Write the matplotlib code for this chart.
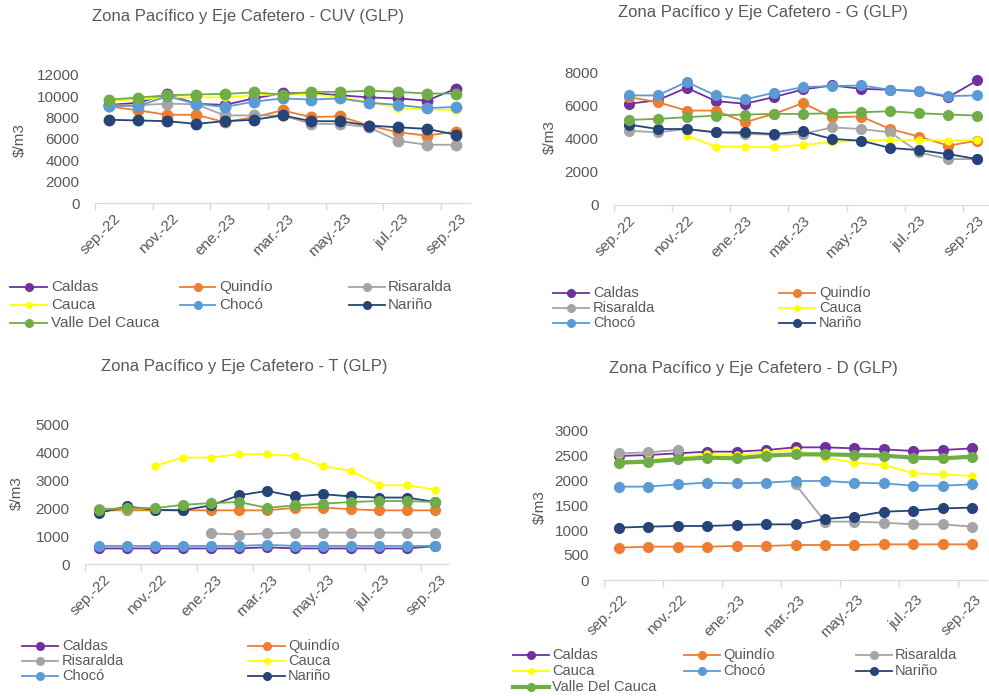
import numpy as np
import matplotlib.pyplot as plt
import matplotlib.transforms as mtransforms
from matplotlib.lines import Line2D

plt.rcParams["font.family"] = ["Liberation Sans", "DejaVu Sans"]

W, H = 989, 696
nan = np.nan

meses = np.arange(13)
etiquetas = ["sep.-22", "nov.-22", "ene.-23", "mar.-23", "may.-23", "jul.-23", "sep.-23"]
departamentos = ["Caldas", "Quindío", "Risaralda", "Cauca", "Chocó", "Nariño", "Valle Del Cauca"]
colores = {
    "Caldas": "#7030A0",
    "Quindío": "#ED7D31",
    "Risaralda": "#A5A5A5",
    "Cauca": "#FFFF00",
    "Chocó": "#5B9BD5",
    "Nariño": "#264478",
    "Valle Del Cauca": "#70AD47",
}

# CUV
cuv_caldas = [9200, 9400, 10200, 9300, 9200, 9800, 10300, 10300, 10100, 9900, 9800, 9600, 10700]
cuv_quindio = [9060, 8680, 8270, 8270, 7580, 8050, 8680, 8050, 8120, 7260, 6630, 6320, 6700]
cuv_risaralda = [9160, 9160, 9320, 9250, 8210, 8210, 8210, 7420, 7420, 7100, 5840, 5460, 5460]
cuv_cauca = [9600, 9700, 9900, 9900, 9900, 10100, 10200, 10200, 9900, 9500, 8900, 8800, 8700]
cuv_choco = [9100, 9100, 10000, 9300, 9000, 9500, 9800, 9700, 9800, 9400, 9200, 8900, 9000]
cuv_narino = [7800, 7740, 7670, 7420, 7670, 7800, 8210, 7670, 7670, 7260, 7100, 6950, 6410]
cuv_valle = [9700, 9880, 10100, 10170, 10230, 10360, 10170, 10420, 10420, 10520, 10420, 10260, 10260]

# G
g_caldas = [6090, 6300, 7050, 6250, 6090, 6490, 6950, 7190, 6990, 6930, 6850, 6490, 7500]
g_quindio = [6490, 6190, 5680, 5680, 4980, 5480, 6130, 5280, 5320, 4570, 4110, 3570, 3870]
g_risaralda = [4470, 4370, 4570, 4370, 4270, 4230, 4270, 4670, 4570, 4370, 3160, 2760, 2760]
g_cauca = [nan, nan, 4170, 3510, 3510, 3470, 3630, 3770, 3870, 3910, 3910, 3870, 3910]
g_choco = [6590, 6590, 7400, 6590, 6350, 6750, 7090, 7150, 7190, 6930, 6850, 6550, 6590]
g_narino = [4840, 4570, 4570, 4370, 4370, 4270, 4430, 3970, 3870, 3430, 3300, 3060, 2760]
g_valle = [5120, 5180, 5280, 5380, 5440, 5480, 5480, 5520, 5580, 5640, 5520, 5440, 5380]

# T
t_caldas = [560, 560, 560, 560, 560, 560, 600, 560, 560, 560, 560, 560, 640]
t_quindio = [1930, 1930, 1930, 1930, 1930, 1930, 1930, 2020, 2030, 1970, 1930, 1930, 1930]
t_risaralda = [1990, 1990, 1990, nan, 1100, 1060, 1100, 1130, 1130, 1130, 1130, 1130, 1130]
t_cauca = [nan, nan, 3530, 3830, 3830, 3950, 3950, 3880, 3520, 3350, 2830, 2830, 2675]
t_choco = [650, 650, 650, 650, 650, 650, 690, 650, 650, 650, 650, 650, 650]
t_narino = [1840, 2070, 1950, 1930, 2110, 2470, 2630, 2430, 2510, 2430, 2390, 2390, 2230]
t_valle = [1950, 2010, 2010, 2130, 2190, 2230, 2020, 2110, 2170, 2230, 2265, 2265, 2230]

# D
d_caldas = [2480, 2500, 2533, 2567, 2567, 2600, 2653, 2653, 2633, 2613, 2580, 2600, 2633]
d_quindio = [647, 667, 667, 667, 680, 680, 700, 700, 700, 713, 713, 713, 713]
d_risaralda = [2533, 2553, 2600, nan, nan, nan, 1913, 1167, 1167, 1147, 1113, 1113, 1067]
d_cauca = [2380, 2400, 2440, 2513, 2500, 2553, 2600, 2447, 2347, 2300, 2133, 2113, 2080]
d_choco = [1867, 1867, 1913, 1947, 1933, 1947, 1980, 1980, 1947, 1933, 1887, 1887, 1913]
d_narino = [1047, 1067, 1080, 1080, 1100, 1113, 1113, 1220, 1267, 1367, 1387, 1433, 1447]
d_valle = [2347, 2367, 2413, 2447, 2433, 2487, 2513, 2513, 2500, 2487, 2447, 2433, 2467]

gris = "#595959"


def rect(x0, x1, ytop, ybot):
    return [x0 / W, 1 - ybot / H, (x1 - x0) / W, (ybot - ytop) / H]


def panel(fig, r, series, ymax, ystep, title, tpos, ylab_pos, ms=7, valle_lw=1.3,
          xpad=6, dx=0.04):
    ax = fig.add_axes(r)
    for name, vals in zip(departamentos, series):
        lw = valle_lw if name == "Valle Del Cauca" else 1.3
        m = ms - 2 if name == "Cauca" else ms
        ax.plot(meses, vals, color=colores[name], lw=lw, marker="o", ms=m, zorder=3)
    ax.set_xlim(-0.5, 12.5)
    ax.set_ylim(0, ymax)
    ax.set_yticks(np.arange(0, ymax + 1, ystep))
    ax.tick_params(axis="y", length=0, pad=11, labelsize=11, labelcolor=gris)
    ax.set_xticks(np.arange(-0.5, 12, 2))
    ax.set_xticklabels([])
    ax.tick_params(axis="x", which="major", length=5, color="#D9D9D9", width=1)
    ax.set_xticks(np.arange(0, 13, 2), minor=True)
    ax.set_xticklabels(etiquetas, minor=True, rotation=45, ha="right",
                       va="top", rotation_mode="anchor")
    ax.tick_params(axis="x", which="minor", length=0, pad=xpad, labelsize=11, labelcolor=gris)
    shift = mtransforms.ScaledTranslation(dx, 0, fig.dpi_scale_trans)
    for lab in ax.get_xticklabels(minor=True):
        lab.set_transform(lab.get_transform() + shift)
    for s in ["top", "right", "left"]:
        ax.spines[s].set_visible(False)
    ax.spines["bottom"].set_color("#D9D9D9")
    ax.patch.set_alpha(0)
    fig.text(tpos[0] / W, 1 - tpos[1] / H, title, ha="center", va="center",
             fontsize=12, color=gris)
    fig.text(ylab_pos[0] / W, 1 - ylab_pos[1] / H, "$/m3", rotation=90,
             ha="center", va="center", fontsize=11, color=gris)
    return ax


def leyenda(fig, nombres, cols, rows, fs=10.5, valle_lw=1.3):
    # cols: (line start, line end, text x); rows: y; row-major order
    ncol = len(cols)
    for i, name in enumerate(nombres):
        xa, xb, xt = cols[i % ncol]
        y = 1 - rows[i // ncol] / H
        lw = valle_lw if name == "Valle Del Cauca" else 1.3
        m = 4 if name == "Cauca" else 5.5
        fig.add_artist(Line2D([xa / W, xb / W], [y, y], color=colores[name], lw=lw))
        fig.add_artist(Line2D([(xa + xb) / 2 / W], [y], color=colores[name],
                              marker="o", ms=m, lw=0))
        fig.text(xt / W, y, name, ha="left", va="center", fontsize=fs, color=gris)


fig = plt.figure(figsize=(W / 100, H / 100), dpi=100)

panel(fig, rect(95, 470, 75, 203),
      [cuv_caldas, cuv_quindio, cuv_risaralda, cuv_cauca, cuv_choco, cuv_narino, cuv_valle],
      12000, 2000, "Zona Pacífico y Eje Cafetero - CUV (GLP)", (248, 16), (20, 140), ms=7.5)
panel(fig, rect(614, 992, 72, 205),
      [g_caldas, g_quindio, g_risaralda, g_cauca, g_choco, g_narino, g_valle],
      8000, 2000, "Zona Pacífico y Eje Cafetero - G (GLP)", (763, 13), (550, 137), ms=7,
      dx=0.0)
panel(fig, rect(85, 449, 425, 564),
      [t_caldas, t_quindio, t_risaralda, t_cauca, t_choco, t_narino, t_valle],
      5000, 1000, "Zona Pacífico y Eje Cafetero - T (GLP)", (244, 366), (17, 493), ms=7)
panel(fig, rect(604, 987, 430, 580),
      [d_caldas, d_quindio, d_risaralda, d_cauca, d_choco, d_narino, d_valle],
      3000, 500, "Zona Pacífico y Eje Cafetero - D (GLP)", (753, 369), (540, 507), ms=7,
      valle_lw=3, xpad=9, dx=0.02)

leyenda(fig, ["Caldas", "Quindío", "Risaralda", "Cauca", "Chocó", "Nariño", "Valle Del Cauca"],
        [(10, 47, 51), (180, 215, 219), (349, 385, 388)], [287, 305, 323], fs=11)
leyenda(fig, ["Caldas", "Quindío", "Risaralda", "Cauca", "Chocó", "Nariño"],
        [(553, 589, 593), (779, 815, 819)], [293, 308, 323])
leyenda(fig, ["Caldas", "Quindío", "Risaralda", "Cauca", "Chocó", "Nariño"],
        [(22, 58, 62), (248, 285, 288)], [646, 661, 676])
leyenda(fig, ["Caldas", "Quindío", "Risaralda", "Cauca", "Chocó", "Nariño", "Valle Del Cauca"],
        [(513, 549, 552), (684, 720, 723), (856, 892, 895)], [655, 671, 687], valle_lw=3)

fig.savefig("out.png", dpi=100)
